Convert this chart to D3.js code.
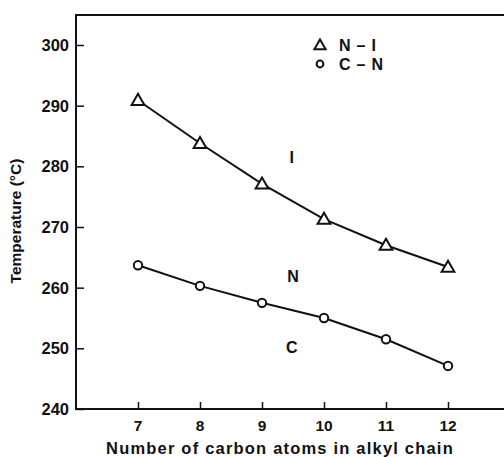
<!DOCTYPE html>
<html><head><meta charset="utf-8">
<script src="https://cdn.jsdelivr.net/npm/d3@7"></script>
<style>body{margin:0;background:#fff}svg{display:block}text{font-family:"Liberation Sans",Arial,sans-serif;fill:#111}</style>
</head><body>
<script>
const carbons = [7, 8, 9, 10, 11, 12];
const niTemps = [290.9, 283.8, 277.1, 271.3, 267.0, 263.4];
const cnTemps = [263.7, 260.3, 257.5, 255.0, 251.5, 247.1];
const yTicks = [240, 250, 260, 270, 280, 290, 300];
const xTicks = [7, 8, 9, 10, 11, 12];
const legendLabels = ["N \u2013 I", "C \u2013 N"];
const phaseLabels = [{t:"I", x:9.48, y:280.6}, {t:"N", x:9.5, y:261.0}, {t:"C", x:9.48, y:249.3}];

const W = 504, H = 457;
const svg = d3.select("body").append("svg").attr("width", W).attr("height", H);
const x = d3.scaleLinear().domain([6, 13]).range([76, 510]);
const y = d3.scaleLinear().domain([240, 300]).range([409, 45]);
const topY = 15;

const g = svg.append("g");
g.append("line").attr("x1",76).attr("x2",76).attr("y1",topY).attr("y2",410).attr("stroke","#111").attr("stroke-width",2);
g.append("line").attr("x1",75).attr("x2",W).attr("y1",topY).attr("y2",topY).attr("stroke","#111").attr("stroke-width",2);

// y axis
const ya = svg.append("g").attr("transform","translate(76,0)")
  .call(d3.axisRight(y).tickValues(yTicks).tickSize(8).tickFormat(""));
ya.select(".domain").remove();
ya.selectAll("line").attr("stroke","#111").attr("stroke-width",1.5);
svg.selectAll(".ylab").data(yTicks).enter().append("text")
  .attr("x",69).attr("y",d=>y(d)+6).attr("text-anchor","end")
  .style("font-size","16.5px").style("font-weight","bold").text(d=>d);

// x axis
const xa = svg.append("g").attr("transform","translate(0,409)")
  .call(d3.axisTop(x).tickValues(xTicks).tickSize(7).tickFormat(""));
xa.select(".domain").remove();
xa.selectAll("line").attr("stroke","#111").attr("stroke-width",1.5);
svg.append("line").attr("x1",75).attr("x2",W).attr("y1",409).attr("y2",409).attr("stroke","#111").attr("stroke-width",2);
svg.selectAll(".xlab").data(xTicks).enter().append("text")
  .attr("x",d=>x(d)).attr("y",431).attr("text-anchor","middle")
  .style("font-size","15.5px").style("font-weight","bold").text(d=>d);

// titles
svg.append("text").attr("x",280).attr("y",454).attr("text-anchor","middle")
  .style("font-size","16.5px").style("font-weight","bold").style("letter-spacing","1.2px")
  .text("Number of carbon atoms in alkyl chain");
svg.append("text").attr("transform","translate(21,221) rotate(-90)").attr("text-anchor","middle")
  .style("font-size","15.5px").style("font-weight","bold").text("Temperature (\u00b0C)");

// lines
const line = d3.line().x(d=>x(d[0])).y(d=>y(d[1]));
const niData = carbons.map((c,i)=>[c, niTemps[i]]);
const cnData = carbons.map((c,i)=>[c, cnTemps[i]]);
svg.append("path").datum(niData).attr("d",line).attr("fill","none").attr("stroke","#111").attr("stroke-width",2);
svg.append("path").datum(cnData).attr("d",line).attr("fill","none").attr("stroke","#111").attr("stroke-width",2);

const tri = d3.symbol().type(d3.symbolTriangle).size(70);
svg.selectAll(".tri").data(niData).enter().append("path")
  .attr("d",tri).attr("transform",d=>`translate(${x(d[0])},${y(d[1])+1})`)
  .attr("fill","#fff").attr("stroke","#111").attr("stroke-width",2);
svg.selectAll(".circ").data(cnData).enter().append("circle")
  .attr("cx",d=>x(d[0])).attr("cy",d=>y(d[1])).attr("r",4.2)
  .attr("fill","#fff").attr("stroke","#111").attr("stroke-width",2);

svg.selectAll(".ph").data(phaseLabels).enter().append("text")
  .attr("x",d=>x(d.x)).attr("y",d=>y(d.y)).attr("text-anchor","middle")
  .style("font-size","16px").style("font-weight","bold").text(d=>d.t);

// legend
svg.append("path").attr("d",d3.symbol().type(d3.symbolTriangle).size(55)).attr("transform","translate(320,46)")
  .attr("fill","#fff").attr("stroke","#111").attr("stroke-width",2);
svg.append("circle").attr("cx",320).attr("cy",64).attr("r",3.4)
  .attr("fill","#fff").attr("stroke","#111").attr("stroke-width",2);
svg.selectAll(".lg").data(legendLabels).enter().append("text")
  .attr("x",339).attr("y",(d,i)=>51+i*19)
  .style("font-size","16px").style("font-weight","bold").style("letter-spacing","0.8px").text(d=>d);
</script>
</body></html>
